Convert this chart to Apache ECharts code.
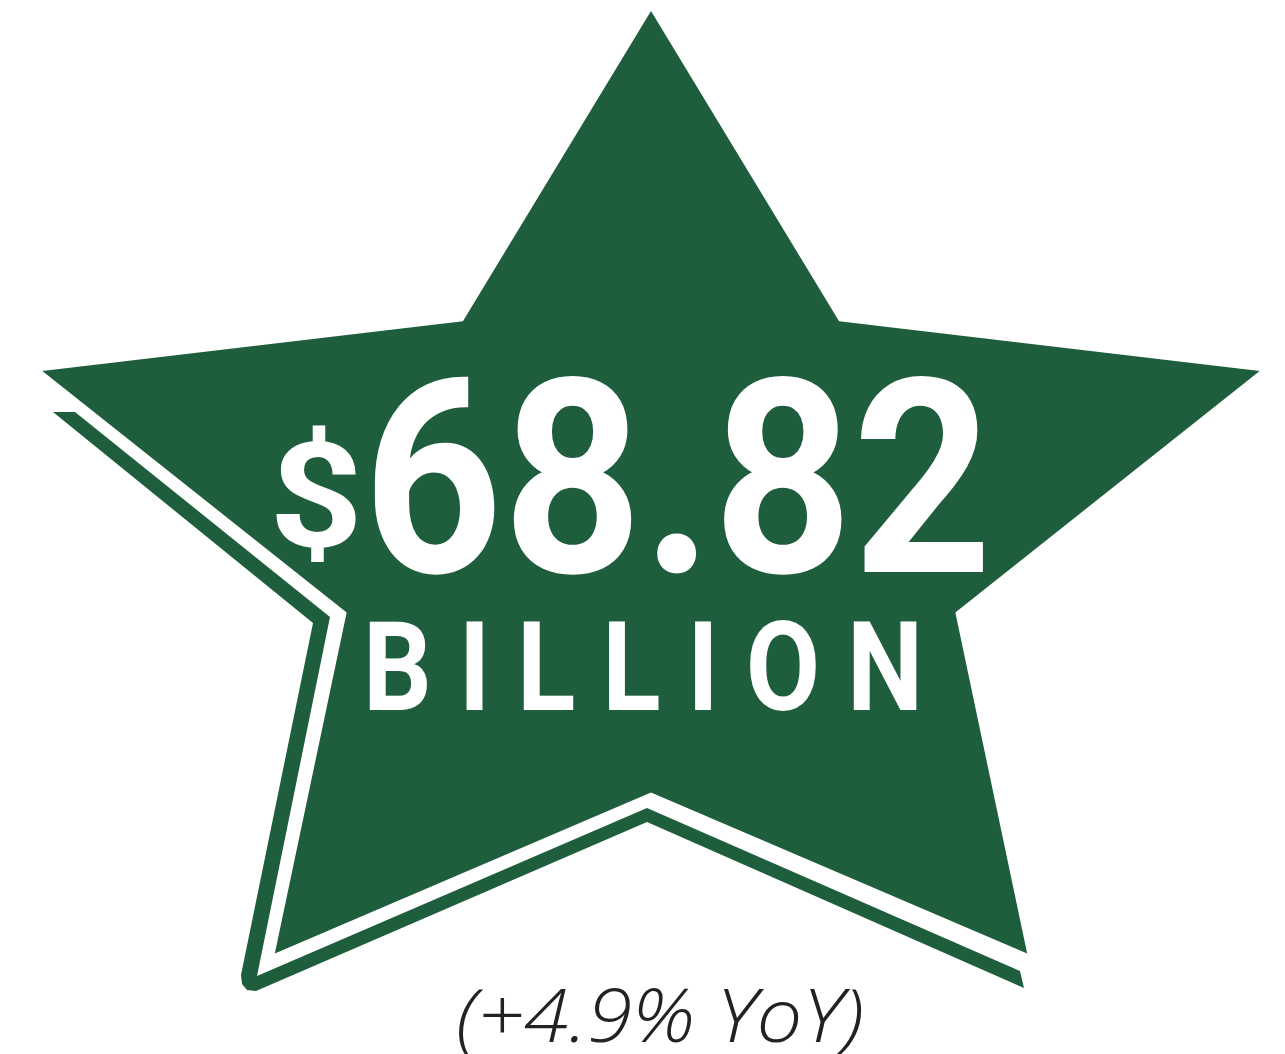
<!DOCTYPE html>
<html>
<head>
<meta charset="utf-8">
<script src="https://cdn.jsdelivr.net/npm/echarts@6/dist/echarts.min.js"></script>
<style>
html,body{margin:0;padding:0;background:#fff;}
#main{width:1285px;height:1054px;}
</style>
</head>
<body>
<div id="main"></div>
<script>
// ---- data ----
const currencySymbol = ['$'];
const headlineValue = [68.82];
const headlineUnit = ['BILLION'];
const yoyChangePct = [4.9];

// ---- styling ----
const GREEN = '#1F5E3C';
const chart = echarts.init(document.getElementById('main'), null, {renderer: 'canvas'});

function starPoints(cx, cy, sx, sy, ratio) {
  const pts = [];
  for (let i = 0; i < 10; i++) {
    const a = (-90 + i * 36) * Math.PI / 180;
    const r = (i % 2 === 0) ? 1 : ratio;
    pts.push([cx + Math.cos(a) * r * sx, cy + Math.sin(a) * r * sy]);
  }
  return pts;
}

// shadow band (decorative outline behind the star)
const bandShape = [
  [53, 412], [313, 623], [241, 975], [242, 984], [247, 990], [256, 991],
  [647, 822], [1024, 988], [1020, 971], [647, 808], [257, 976], [330, 617], [75, 412]
];

const valueText = headlineValue[0].toFixed(2);
const yoyText = '(' + (yoyChangePct[0] >= 0 ? '+' : '') + yoyChangePct[0].toFixed(1) + '% YoY)';
const unitText = headlineUnit[0].split('').join(' ');

const BOLD = "Roboto, 'DejaVu Sans', sans-serif";

chart.setOption({
  backgroundColor: '#ffffff',
  animation: false,
  graphic: [
    { type: 'polygon', shape: { points: bandShape }, style: { fill: GREEN }, z: 1 },
    { type: 'polygon', shape: { points: starPoints(651, 532, 640, 521, 0.5) }, style: { fill: GREEN }, z: 2 },
    { type: 'text', x: 363, y: 510, scaleX: 1.12, z: 5,
      style: { text: currencySymbol[0], fill: '#fff', font: "bold 146px " + BOLD, textAlign: 'right', textVerticalAlign: 'middle' } },
    { type: 'text', x: 363, y: 504, scaleX: 0.895, z: 5,
      style: { text: valueText, fill: '#fff', font: "bold 272px " + BOLD, textAlign: 'left', textVerticalAlign: 'middle' } },
    { type: 'text', x: 643, y: 679, scaleX: 0.87, z: 5,
      style: { text: unitText, fill: '#fff', font: "bold 124px " + BOLD, textAlign: 'center', textVerticalAlign: 'middle' } },
    { type: 'text', x: 660, y: 1021, scaleX: 1.1, z: 5,
      style: { text: yoyText, fill: '#222222', font: "italic 300 74px 'Open Sans', 'Lato', sans-serif", textAlign: 'center', textVerticalAlign: 'middle' } }
  ]
});
</script>
</body>
</html>
